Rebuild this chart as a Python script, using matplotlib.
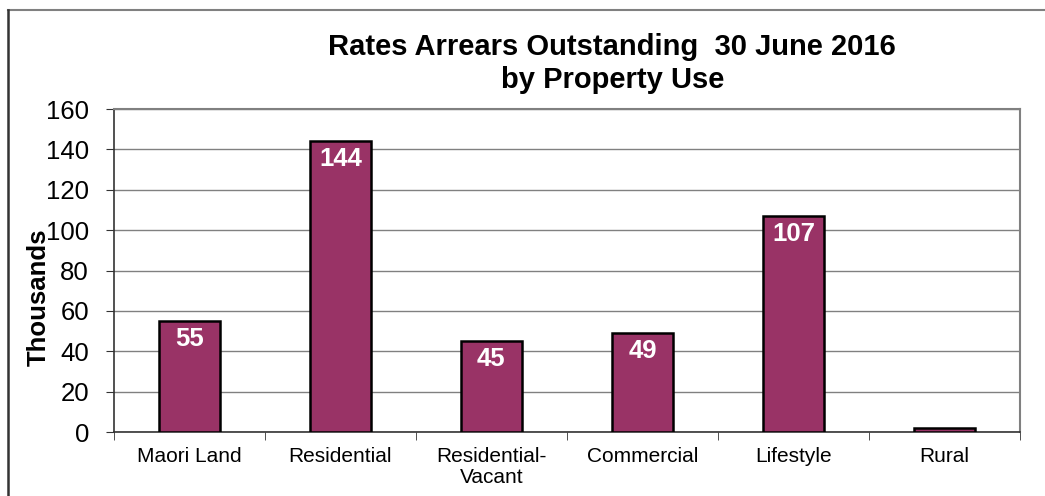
import matplotlib.pyplot as plt
from matplotlib.lines import Line2D

plt.rcParams['font.family'] = ['Liberation Sans', 'DejaVu Sans']

categories = ["Maori Land", "Residential", "Residential-\nVacant", "Commercial", "Lifestyle", "Rural"]
values = [55, 144, 45, 49, 107, 2]
bar_labels = ["55", "144", "45", "49", "107", ""]
yticks = [0, 20, 40, 60, 80, 100, 120, 140, 160]

fig = plt.figure(figsize=(10.45, 4.96), dpi=100)
ax = fig.add_axes([0.109, 0.129, 0.867, 0.651])

x = range(len(categories))
bars = ax.bar(x, values, width=0.40, color="#993366", edgecolor="black", linewidth=1.8, zorder=3)

for b, lab in zip(bars, bar_labels):
    if lab:
        ax.annotate(lab, (b.get_x() + b.get_width() / 2, b.get_height()),
                    xytext=(0, -4), textcoords="offset points",
                    ha="center", va="top", color="white", fontsize=18.5, fontweight="bold", zorder=4)

ax.set_xlim(-0.5, len(categories) - 0.5)
ax.set_ylim(0, 160)
ax.set_yticks(yticks)
ax.set_yticklabels([str(t) for t in yticks], fontsize=18.5)
ax.set_xticks(list(x))
ax.set_xticklabels(categories, fontsize=15, linespacing=1.1)
ax.set_xticks([i - 0.5 for i in range(len(categories) + 1)], minor=True)
ax.tick_params(axis="x", which="major", length=0, pad=11)
ax.tick_params(axis="x", which="minor", length=6, direction="out", color="#333333")
ax.tick_params(axis="y", length=6, direction="out", color="#333333", pad=12)

ax.yaxis.grid(True, color="#808080", linewidth=1.0, zorder=0)
for s in ["top", "right"]:
    ax.spines[s].set_color("#808080")
    ax.spines[s].set_linewidth(1.5)
for s in ["left", "bottom"]:
    ax.spines[s].set_color("#333333")
    ax.spines[s].set_linewidth(1.2)

fig.text(0.037, 0.40, "Thousands", rotation=90, ha="center", va="center",
         fontsize=18.5, fontweight="bold")
fig.text(0.586, 0.905, "Rates Arrears Outstanding  30 June 2016", ha="center", va="center",
         fontsize=21, fontweight="bold")
fig.text(0.586, 0.838, "by Property Use", ha="center", va="center",
         fontsize=21, fontweight="bold")

# outer chart border
fig.add_artist(Line2D([8 / 1045, 1], [1 - 10 / 496, 1 - 10 / 496], transform=fig.transFigure,
                      color="#808080", linewidth=1.5))
fig.add_artist(Line2D([8 / 1045, 8 / 1045], [0, 1 - 10 / 496], transform=fig.transFigure,
                      color="#333333", linewidth=1.8))

fig.savefig("out.png", dpi=100)
